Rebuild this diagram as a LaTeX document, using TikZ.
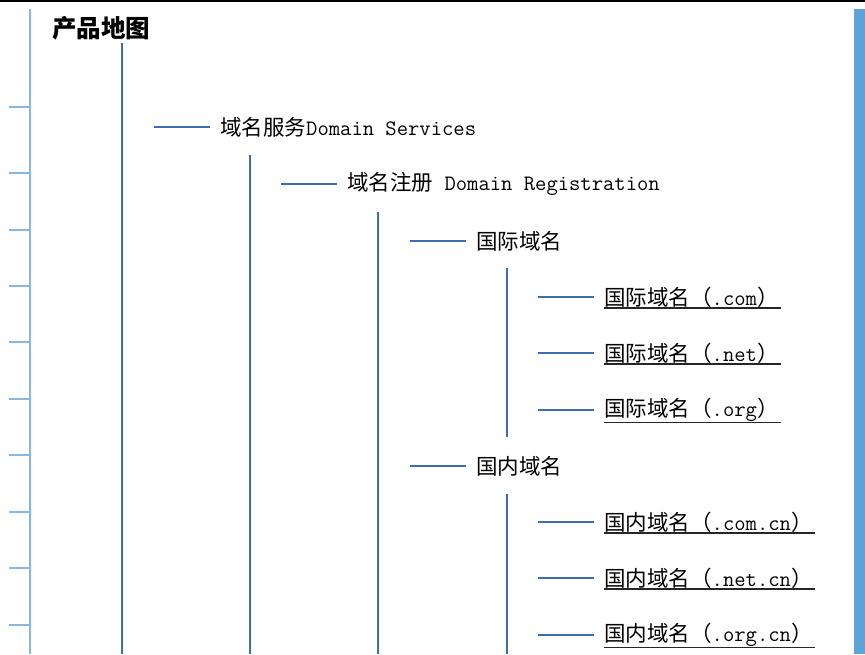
\documentclass[tikz,border=0pt]{standalone}
\usepackage{fontspec}
\usepackage{tikz}
\newfontfamily\cjk{Noto Sans CJK SC}
\definecolor{treeblue}{HTML}{3B6EAA}
\definecolor{rulerblue}{HTML}{86B8E3}
\definecolor{barblue}{HTML}{5EA2D8}
\tikzset{
  item/.style={anchor=west, inner sep=0pt, font=\cjk\fontsize{21.5}{22}\selectfont},
  branch/.style={treeblue, line width=1.6pt},
  uline/.style={black!85, line width=1.6pt},
}
\newcommand{\mtxt}[1]{{\ttfamily\fontsize{22}{22}\selectfont #1}}

\begin{document}
\begin{tikzpicture}[x=1pt, y=-1pt]
        \useasboundingbox (0,0) rectangle (865,654);
        % frame
        \draw [line width=2pt] (0,1) -- (865,1);
        \fill [barblue] (854,9) rectangle (865,654);
        \draw [rulerblue, line width=2pt] (30,9) -- (30,654);
        \foreach \y in {107,173,230,286,342,399,455,512,568,625}
            \draw [rulerblue, line width=2pt] (9,\y) -- (30,\y);

        \node [item, font=\cjk\bfseries\fontsize{24.5}{26}\selectfont] (title) at (52,28) {产品地图};
        \node [item] (svc) at (220,127) {域名服务\mtxt{Domain Services}};
        \node [item] (reg) at (347,184) {域名注册\mtxt{ Domain Registration}};
        \node [item] (intl) at (476,241) {国际域名};
        \node [item] (com) at (604,297) {国际域名（\mtxt{.com}）};
        \node [item] (net) at (604,353) {国际域名（\mtxt{.net}）};
        \node [item] (org) at (604,410) {国际域名（\mtxt{.org}）};
        \node [item] (cn) at (476,466) {国内域名};
        \node [item] (comcn) at (604,522) {国内域名（\mtxt{.com.cn}）};
        \node [item] (netcn) at (604,578) {国内域名（\mtxt{.net.cn}）};
        \node [item] (orgcn) at (604,635) {国内域名（\mtxt{.org.cn}）};

        % trunks
        \coordinate (t0) at (122,43);   \coordinate (b0) at (122,654);
        \coordinate (t1) at (250,155);  \coordinate (b1) at (250,654);
        \coordinate (t2) at (378,212);  \coordinate (b2) at (378,654);
        \coordinate (t3) at (507,268);  \coordinate (b3) at (507,437);
        \coordinate (t4) at (507,494);  \coordinate (b4) at (507,654);
        \draw [branch] (t0) -- (b0);
        \draw [branch] (t1) -- (b1);
        \draw [branch] (t2) -- (b2);
        \draw [branch] (t3) -- (b3);
        \draw [branch] (t4) -- (b4);

        % dashes
        \foreach \n in {svc,reg,intl,com,net,org,cn,comcn,netcn,orgcn}
            \draw [branch] ([xshift=-10pt]\n.west) -- ++(-56,0);

        % links
        \foreach \n in {com,net,org,comcn,netcn,orgcn}
            \draw [uline] ([yshift=-0.5pt]\n.south west) -- ([xshift=2pt,yshift=-0.5pt]\n.south east);
    \end{tikzpicture}
\end{document}
